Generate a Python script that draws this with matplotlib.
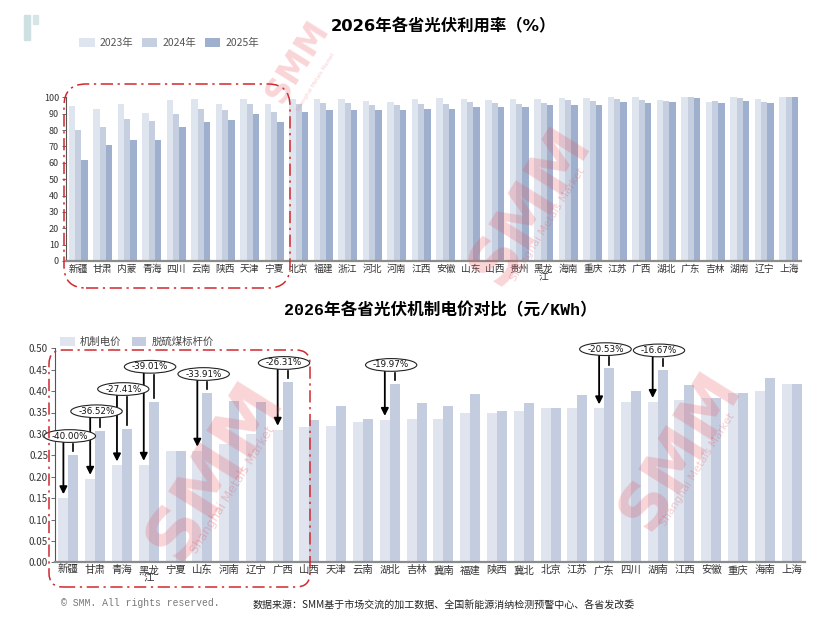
import numpy as np
import matplotlib.pyplot as plt
from matplotlib.patches import FancyBboxPatch, Rectangle
from matplotlib.transforms import IdentityTransform

plt.rcParams['font.family'] = ['Noto Sans CJK SC', 'DejaVu Sans']
plt.rcParams['axes.unicode_minus'] = False

# top chart: utilisation rate (%)
util_provinces = ['新疆', '甘肃', '内蒙', '青海', '四川', '云南', '陕西', '天津', '宁夏', '北京',
                  '福建', '浙江', '河北', '河南', '江西', '安徽', '山东', '山西', '贵州', '黑龙\n江',
                  '海南', '重庆', '江苏', '广西', '湖北', '广东', '吉林', '湖南', '辽宁', '上海']
util_2023 = [94.7, 93.0, 96.0, 90.4, 98.4, 98.8, 96.0, 99.2, 95.7, 99.2,
             99.2, 99.2, 97.6, 97.0, 99.0, 99.4, 99.0, 98.4, 99.0, 99.0,
             99.4, 99.4, 100.0, 100.0, 98.2, 100.0, 97.2, 100.0, 99.2, 100.0]
util_2024 = [80.0, 82.0, 86.8, 85.5, 89.8, 92.9, 92.0, 95.7, 90.8, 95.7,
             96.3, 96.3, 95.0, 95.0, 96.0, 96.0, 97.0, 96.3, 96.0, 96.7,
             98.6, 97.6, 98.8, 98.6, 97.6, 100.0, 97.6, 99.4, 97.4, 100.0]
util_2025 = [62.0, 71.0, 74.0, 74.0, 82.0, 85.0, 86.0, 90.0, 85.0, 91.0,
             92.0, 92.0, 92.0, 92.0, 93.0, 93.0, 94.3, 94.3, 94.3, 95.0,
             95.0, 95.0, 97.0, 96.5, 97.0, 99.6, 96.5, 98.0, 96.5, 100.0]
util_years = ['2023年', '2024年', '2025年']

# bottom chart: mechanism price vs coal benchmark (yuan/kWh)
price_provinces = ['新疆', '甘肃', '青海', '黑龙\n江', '宁夏', '山东', '河南', '辽宁', '广西', '山西',
                   '天津', '云南', '湖北', '吉林', '冀南', '福建', '陕西', '冀北', '北京', '江苏',
                   '广东', '四川', '湖南', '江西', '安徽', '重庆', '海南', '上海']
mech_price = [0.150, 0.1954, 0.2267, 0.2281, 0.2595, 0.261, 0.2757, 0.300, 0.310, 0.3165,
              0.319, 0.3287, 0.333, 0.335, 0.335, 0.350, 0.350, 0.353, 0.3598, 0.360,
              0.360, 0.374, 0.375, 0.379, 0.3844, 0.3964, 0.400, 0.4155]
coal_price = [0.250, 0.3078, 0.3123, 0.374, 0.2595, 0.3949, 0.3779, 0.3749, 0.4207, 0.332,
              0.3655, 0.3358, 0.4161, 0.3731, 0.3644, 0.3932, 0.3545, 0.372, 0.3598, 0.391,
              0.453, 0.4012, 0.450, 0.4143, 0.3844, 0.3964, 0.4298, 0.4155]
pct_names = ['新疆', '甘肃', '青海', '黑龙\n江', '山东', '广西', '湖北', '广东', '湖南']
pct_labels = ['-40.00%', '-36.52%', '-27.41%', '-39.01%', '-33.91%', '-26.31%', '-19.97%', '-20.53%', '-16.67%']

W, H = 838, 639
util_colors = ['#dfe5ef', '#c5cfe0', '#9eb0cd']
price_colors = ['#dfe4ee', '#c4cde0']
tick_col = '#333333'


def fig_box(x0, y0, x1, y1):
    # pixel box (top-left origin) -> figure fraction [left, bottom, width, height]
    return [x0 / W, 1 - y1 / H, (x1 - x0) / W, (y1 - y0) / H]


def style_axes(ax):
    for s in ['top', 'right']:
        ax.spines[s].set_visible(False)
    ax.spines['left'].set_color('#555555')
    ax.spines['left'].set_linewidth(0.8)
    ax.spines['bottom'].set_color('#8c8c8c')
    ax.spines['bottom'].set_linewidth(1.6)
    ax.tick_params(axis='y', length=3, width=0.6, colors='#555555', labelcolor=tick_col, labelsize=6.5, pad=2)
    ax.tick_params(axis='x', length=0, labelcolor=tick_col, pad=2)


fig = plt.figure(figsize=(W / 100, H / 100), dpi=100)

# --- top chart
ax1 = fig.add_axes(fig_box(66, 97.3, 801, 261))
x = np.arange(len(util_provinces))
bw = 0.263
for k, vals in enumerate([util_2023, util_2024, util_2025]):
    ax1.bar(x + (k - 1) * bw, vals, width=bw, color=util_colors[k], label=util_years[k], zorder=2)
ax1.set_xlim(-0.5, len(util_provinces) - 0.5)
ax1.set_ylim(0, 100)
ax1.set_yticks(np.arange(0, 101, 10))
ax1.set_xticks(x)
ax1.set_xticklabels(util_provinces, fontsize=7, linespacing=0.8, va='top')
style_axes(ax1)
ax1.legend(loc='center left', bbox_to_anchor=(79 / W, 1 - 43 / H), bbox_transform=fig.transFigure,
           ncol=3, frameon=False, fontsize=7.5, handlelength=1.5, handleheight=1.0,
           handletextpad=0.5, columnspacing=0.8, borderpad=0, borderaxespad=0,
           labelcolor='#555555')
fig.text(443 / W, 1 - 26 / H, '2026年各省光伏利用率（%）', ha='center', va='center',
         fontsize=11.8, fontweight='bold', family=['DejaVu Sans', 'Noto Sans CJK SC'])

# --- bottom chart
ax2 = fig.add_axes(fig_box(55, 348.3, 805, 562.3))
x2 = np.arange(len(price_provinces))
bw2 = 0.373
ax2.bar(x2 - bw2 / 2, mech_price, width=bw2, color=price_colors[0], label='机制电价', zorder=2)
ax2.bar(x2 + bw2 / 2, coal_price, width=bw2, color=price_colors[1], label='脱硫煤标杆价', zorder=2)
ax2.set_xlim(-0.5, len(price_provinces) - 0.5)
ax2.set_ylim(0, 0.5)
ax2.set_yticks(np.arange(0, 0.501, 0.05))
ax2.set_yticklabels(['%.2f' % v for v in np.arange(0, 0.501, 0.05)])
ax2.set_xticks(x2)
ax2.set_xticklabels(price_provinces, fontsize=7.5, linespacing=0.8, va='top')
style_axes(ax2)
ax2.tick_params(axis='y', labelsize=7)
ax2.legend(loc='center left', bbox_to_anchor=(60 / W, 1 - 342 / H), bbox_transform=fig.transFigure,
           ncol=2, frameon=False, fontsize=7.5, handlelength=1.4, handleheight=1.0,
           handletextpad=0.5, columnspacing=1.0, borderpad=0, borderaxespad=0,
           labelcolor='#444444')
fig.text(440 / W, 1 - 310 / H, '2026年各省光伏机制电价对比（元/KWh）', ha='center', va='center',
         fontsize=12, fontweight='bold', family=['Liberation Mono', 'Noto Sans CJK SC'])

# percentage callouts
prev_i, prev_y = None, None
for name, lab in zip(pct_names, pct_labels):
    i = price_provinces.index(name)
    ly = coal_price[i] + 0.045
    if prev_i is not None and i - prev_i <= 1:
        ly = max(ly, prev_y + 0.052)
    prev_i, prev_y = i, ly
    ax2.annotate('', xy=(i - bw2 / 2, mech_price[i] + 0.009), xytext=(i - bw2 / 2, ly - 0.012),
                 arrowprops=dict(arrowstyle='-|>', color='black', lw=1.3, mutation_scale=11,
                                 shrinkA=0, shrinkB=0), zorder=4)
    ax2.plot([i + bw2 / 2, i + bw2 / 2], [ly - 0.019, coal_price[i] + 0.009], color='black', lw=1.2, zorder=4)
    ax2.text(i + 0.05, ly, lab, ha='center', va='center', fontsize=6.3, color='#111111', zorder=5,
             family='DejaVu Sans',
             bbox=dict(boxstyle='ellipse,pad=0.0', fc='white', ec='#222222', lw=0.8))

# red dash-dot highlight boxes (pixel coordinates)
for (x0, y0, x1, y1, r) in [(64, 84, 290, 288, 22), (49, 350, 310, 587, 14)]:
    box = FancyBboxPatch((x0 + r, H - y1 + r), (x1 - x0) - 2 * r, (y1 - y0) - 2 * r,
                         boxstyle='round,pad=%d' % r, transform=IdentityTransform(),
                         fill=False, ec='#d0282e', lw=1.1, ls=(0, (8, 3, 1.5, 3)), zorder=6)
    fig.patches.append(box)

# top-left logo marks
fig.patches.append(Rectangle((24 / W, 1 - 40 / H), 6 / W, 25 / H, transform=fig.transFigure,
                             color='#cfe0e2', zorder=1))
fig.patches.append(Rectangle((33 / W, 1 - 24 / H), 5 / W, 9 / H, transform=fig.transFigure,
                             color='#d6e6e8', zorder=1))

# watermarks
for (wx, wy, fs) in [(298, 62, 24), (530, 205, 46), (215, 470, 52), (680, 450, 46)]:
    fig.text(wx / W, 1 - wy / H, 'SMM', ha='center', va='center', fontsize=fs, fontweight='bold',
             color='#e8505a', alpha=0.24, rotation=58, family='DejaVu Sans', zorder=7)
    fig.text((wx + 18) / W, 1 - (wy + 20) / H, 'Shanghai Metals Market', ha='center', va='center',
             fontsize=fs * 0.17, color='#e8505a', alpha=0.28, rotation=58, family='DejaVu Sans', zorder=7)

# footer
fig.text(61 / W, 1 - 603 / H, '© SMM. All rights reserved.', ha='left', va='center', fontsize=7,
         color='#777777', family=['Liberation Mono', 'DejaVu Sans'])
fig.text(253 / W, 1 - 606 / H, '数据来源：SMM基于市场交流的加工数据、全国新能源消纳检测预警中心、各省发改委',
         ha='left', va='center', fontsize=7.2, color='#222222')

fig.savefig('out.png', dpi=100)
